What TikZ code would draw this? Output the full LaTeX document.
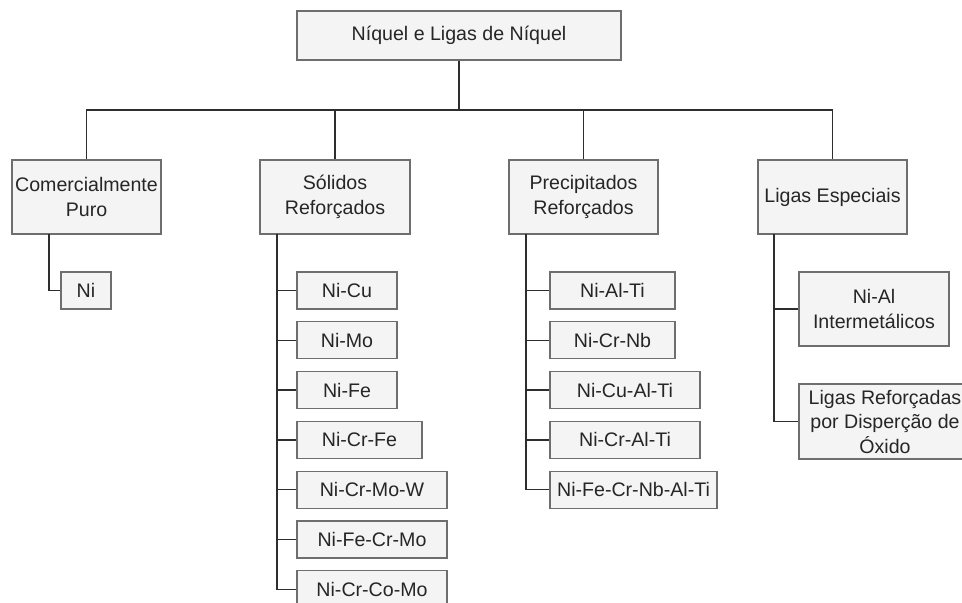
\documentclass[tikz,border=0pt]{standalone}
\usepackage{fontspec}
\setmainfont{Liberation Sans}
\begin{document}
\begin{tikzpicture}[x=1bp,y=-1bp,
  box/.style={draw=boxline, fill=boxfill, line width=1.2bp, inner sep=0pt,
    align=center, text=textcol, font=\fontsize{19.6bp}{24.5bp}\selectfont},
  conn/.style={draw=connline, line width=1.5bp}]
\definecolor{boxfill}{HTML}{F4F4F4}
\definecolor{boxline}{HTML}{6E6E6E}
\definecolor{connline}{HTML}{2E2E2E}
\definecolor{textcol}{HTML}{262626}
\useasboundingbox (0,0) rectangle (962,603);
\clip (0,0) rectangle (962,603);
% root
\node[box, minimum width=324bp, minimum height=49bp] (root) at (459,35.5) {Níquel e Ligas de Níquel};
% level 1
\node[box, minimum width=149bp, minimum height=74bp] (c1) at (86.5,197) {Comercialmente\\Puro};
\node[box, minimum width=150bp, minimum height=74bp] (c2) at (335,197) {Sólidos\\Reforçados};
\node[box, minimum width=149bp, minimum height=74bp] (c3) at (583.5,197) {Precipitados\\Reforçados};
\node[box, minimum width=149bp, minimum height=74bp] (c4) at (832.5,197) {Ligas Especiais};
% bar
\coordinate (bar) at (459,110);
\draw[conn] (root.south) -- (root.south |- bar);
\draw[conn] (c1.north) -- (c1.north |- bar) -- (c4.north |- bar) -- (c4.north);
\draw[conn] (c2.north) -- (c2.north |- bar);
\draw[conn] (c3.north) -- (c3.north |- bar);
% trunks
\coordinate (t1) at (49,234);
\coordinate (t2) at (277,234);
\coordinate (t3) at (526,234);
\coordinate (t4) at (774,234);
% Comercialmente
\node[box, minimum width=50bp, minimum height=37bp] (n1) at (86,290.5) {Ni};
\draw[conn] (t1) |- (n1.west);
% Solidos
\node[box, minimum width=100bp, minimum height=37bp] (s1) at (347,290.5) {Ni-Cu};
\node[box, minimum width=100bp, minimum height=37bp] (s2) at (347,340.3) {Ni-Mo};
\node[box, minimum width=100bp, minimum height=37bp] (s3) at (347,390.1) {Ni-Fe};
\node[box, minimum width=125bp, minimum height=37bp] (s4) at (359.5,439.9) {Ni-Cr-Fe};
\node[box, minimum width=150bp, minimum height=37bp] (s5) at (372,489.7) {Ni-Cr-Mo-W};
\node[box, minimum width=150bp, minimum height=37bp] (s6) at (372,539.5) {Ni-Fe-Cr-Mo};
\node[box, minimum width=150bp, minimum height=37bp] (s7) at (372,589.3) {Ni-Cr-Co-Mo};
\foreach \n in {s1,s2,s3,s4,s5,s6,s7} \draw[conn] (t2) |- (\n.west);
% Precipitados
\node[box, minimum width=125bp, minimum height=37bp] (p1) at (612.5,290.5) {Ni-Al-Ti};
\node[box, minimum width=125bp, minimum height=37bp] (p2) at (612.5,340.3) {Ni-Cr-Nb};
\node[box, minimum width=150bp, minimum height=37bp] (p3) at (625,390.1) {Ni-Cu-Al-Ti};
\node[box, minimum width=150bp, minimum height=37bp] (p4) at (625,439.9) {Ni-Cr-Al-Ti};
\node[box, minimum width=167bp, minimum height=37bp] (p5) at (633.5,489.7) {Ni-Fe-Cr-Nb-Al-Ti};
\foreach \n in {p1,p2,p3,p4,p5} \draw[conn] (t3) |- (\n.west);
% Especiais
\node[box, minimum width=150bp, minimum height=74bp] (e1) at (874,309) {Ni-Al\\Intermetálicos};
\node[box, minimum width=172bp, minimum height=75bp] (e2) at (885,421.5) {Ligas Reforçadas\\por Disperção de\\Óxido};
\draw[conn] (t4) |- (e1.west);
\draw[conn] (t4) |- (e2.west);
\end{tikzpicture}
\end{document}
